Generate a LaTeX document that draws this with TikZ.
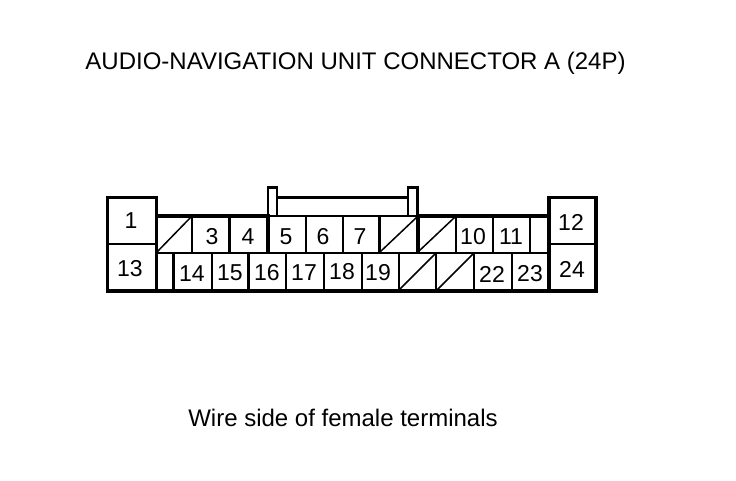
\documentclass[tikz,border=0pt]{standalone}
\usepackage{fontspec}
\setmainfont{Liberation Sans}
\tikzset{
  pin/.style={inner sep=0pt, font=\fontsize{23}{23}\selectfont},
  caption/.style={inner sep=0pt, font=\fontsize{24}{24}\selectfont},
  thickline/.style={line width=3.4pt},
  thinline/.style={line width=2.2pt},
  slash/.style={line width=1.5pt}
}
\begin{document}
\begin{tikzpicture}[x=1pt, y=-1pt]
\useasboundingbox (0,0) rectangle (736,480);

\node [caption] (title) at (355.5, 63) {AUDIO-NAVIGATION UNIT CONNECTOR A (24P)};
\node [caption] (side)  at (343, 418) {Wire side of female terminals};

% Outline
\draw [thickline, line cap=rect] (156.5,216) -- (268,216);
\draw [thickline, line cap=rect] (418,216) -- (549,216);
\draw [thinline] (268,216) -- (418,216);
\draw [thickline, line cap=rect] (107.5,291) -- (596,291);
\draw [thickline, line join=miter] (107.5,291) -- (107.5,197.5) -- (156.5,197.5) -- (156.5,291);
\draw [thickline, line join=miter] (549,291) -- (549,197.5) -- (596,197.5) -- (596,291);
\draw [thinline] (107.5,244) -- (156.5,244);
\draw [thinline] (549,244) -- (596,244);

% Latches
\draw [thinline] (268,216) -- (268,187.5) -- (277,187.5) -- (277,216);
\draw [thinline] (408,216) -- (408,187.5) -- (417.5,187.5) -- (417.5,216);
\draw [thickline] (277,197.5) -- (408,197.5);

% Upper row
\draw [thinline] (156.5,253) -- (549,253);
\draw [thinline] (192,216) -- (192,253);
\draw [thinline] (229.5,216) -- (229.5,253);
\draw [thickline] (268,216) -- (268,253);
\draw [thinline] (306,216) -- (306,253);
\draw [thinline] (343,216) -- (343,253);
\draw [thinline] (379.5,216) -- (379.5,253);
\draw [thickline] (418,216) -- (418,253);
\draw [thinline] (456,216) -- (456,253);
\draw [thinline] (493,216) -- (493,253);
\draw [thinline] (530,216) -- (530,253);

% Lower row
\draw [thinline] (173.5,253) -- (173.5,291);
\draw [thinline] (212,253) -- (212,291);
\draw [thinline] (248.5,253) -- (248.5,291);
\draw [thinline] (286,253) -- (286,291);
\draw [thinline] (324,253) -- (324,291);
\draw [thinline] (362,253) -- (362,291);
\draw [thinline] (399,253) -- (399,291);
\draw [thinline] (436,253) -- (436,291);
\draw [thinline] (474,253) -- (474,291);
\draw [thinline] (512,253) -- (512,291);

% Blanked cavities
\draw [slash] (157,252) -- (191,217);
\draw [slash] (380,252) -- (417,217);
\draw [slash] (418,252) -- (455,217);
\draw [slash] (399,290) -- (435,254);
\draw [slash] (437,290) -- (473,254);

% Numbers
\node [pin] (p1)  at (131, 221) {1};
\node [pin] (p13) at (130, 269) {13};
\node [pin] (p12) at (571, 222) {12};
\node [pin] (p24) at (572, 269) {24};

\node [pin] (p3)  at (212, 237) {3};
\node [pin] (p4)  at (248, 237) {4};
\node [pin] (p5)  at (286, 237) {5};
\node [pin] (p6)  at (323, 237) {6};
\node [pin] (p7)  at (360, 237) {7};
\node [pin] (p10) at (473, 237) {10};
\node [pin] (p11) at (511, 237) {11};

\node [pin] (p14) at (192, 274) {14};
\node [pin] (p15) at (230, 273) {15};
\node [pin] (p16) at (267, 273) {16};
\node [pin] (p17) at (304, 273) {17};
\node [pin] (p18) at (342, 272) {18};
\node [pin] (p19) at (378, 273) {19};
\node [pin] (p22) at (492, 274) {22};
\node [pin] (p23) at (530, 274) {23};
\end{tikzpicture}
\end{document}
